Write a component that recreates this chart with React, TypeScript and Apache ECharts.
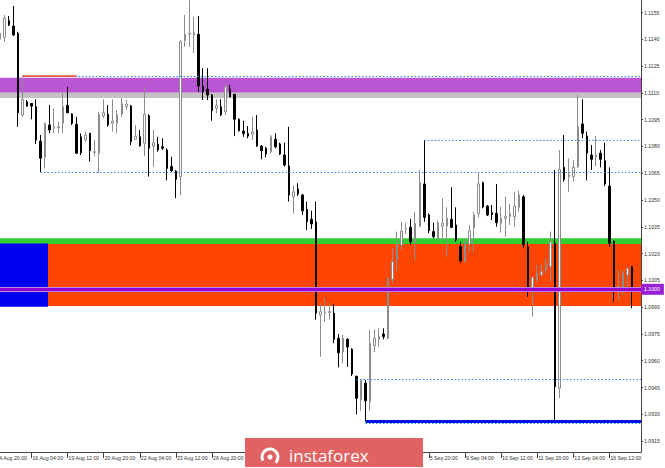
import React, { useEffect, useRef } from 'react';
import * as echarts from 'echarts';

// ---- Candle data (H4 bars, oldest first) ----
const opens = [
  1.11400, 1.11411, 1.11504, 1.11474, 1.11434, 1.10976, 1.11050, 1.11041, 1.11022, 1.10830,
  1.10739, 1.10920, 1.10902, 1.10905, 1.10930, 1.11030, 1.10982, 1.10924, 1.10854, 1.10836,
  1.10873, 1.10767, 1.10762, 1.10970, 1.10980, 1.10930, 1.10930, 1.10982, 1.11022, 1.11026,
  1.10840, 1.10854, 1.10818, 1.10972, 1.10802, 1.10812, 1.10798, 1.10780, 1.10687, 1.10662,
  1.10631, 1.11392, 1.11428, 1.11424, 1.11428, 1.11138, 1.11120, 1.11088, 1.11014, 1.11022,
  1.10995, 1.11120, 1.11092, 1.10952, 1.10886, 1.10873, 1.10868, 1.10892, 1.10802, 1.10790,
  1.10770, 1.10840, 1.10814, 1.10752, 1.10690, 1.10518, 1.10562, 1.10528, 1.10448, 1.10392,
  1.10378, 1.09856, 1.09866, 1.09870, 1.09866, 1.09726, 1.09650, 1.09720, 1.09664, 1.09513,
  1.09382, 1.09474, 1.09370, 1.09685, 1.09718, 1.09750, 1.09726, 1.10056, 1.10164, 1.10248,
  1.10337, 1.10347, 1.10258, 1.10354, 1.10590, 1.10416, 1.10323, 1.10286, 1.10354, 1.10354,
  1.10392, 1.10360, 1.10238, 1.10154, 1.10254, 1.10342, 1.10425, 1.10597, 1.10466, 1.10429,
  1.10425, 1.10370, 1.10398, 1.10407, 1.10407, 1.10459, 1.10518, 1.10238, 1.10006, 1.10056,
  1.10080, 1.10108, 1.10127, 1.10258, 1.09446, 1.10683, 1.10630, 1.10631, 1.10687, 1.10926,
  1.10858, 1.10752, 1.10739, 1.10762, 1.10720, 1.10578, 1.10270, 1.09996, 1.10000, 1.10080,
  1.10127,
];
const closes = [
  1.11434, 1.11518, 1.11480, 1.11424, 1.10989, 1.11064, 1.11026, 1.11026, 1.10836, 1.10734,
  1.10930, 1.10892, 1.10910, 1.10910, 1.11022, 1.10989, 1.10930, 1.10762, 1.10765, 1.10864,
  1.10776, 1.10770, 1.10980, 1.10989, 1.10920, 1.10942, 1.10976, 1.11041, 1.11036, 1.10827,
  1.10858, 1.10804, 1.10980, 1.10790, 1.10821, 1.10780, 1.10790, 1.10677, 1.10664, 1.10616,
  1.11386, 1.11428, 1.11434, 1.11437, 1.11138, 1.11106, 1.11088, 1.11000, 1.11030, 1.10976,
  1.11134, 1.11078, 1.10952, 1.10888, 1.10873, 1.10858, 1.10881, 1.10802, 1.10776, 1.10758,
  1.10854, 1.10798, 1.10758, 1.10696, 1.10528, 1.10546, 1.10534, 1.10440, 1.10378, 1.10366,
  1.09866, 1.09875, 1.09870, 1.09875, 1.09720, 1.09645, 1.09726, 1.09677, 1.09526, 1.09390,
  1.09490, 1.09376, 1.09698, 1.09726, 1.09737, 1.09735, 1.10063, 1.10154, 1.10254, 1.10326,
  1.10340, 1.10266, 1.10370, 1.10599, 1.10403, 1.10328, 1.10294, 1.10373, 1.10370, 1.10398,
  1.10347, 1.10276, 1.10160, 1.10266, 1.10328, 1.10416, 1.10590, 1.10461, 1.10416, 1.10418,
  1.10373, 1.10398, 1.10407, 1.10422, 1.10466, 1.10528, 1.10250, 1.10006, 1.10067, 1.10090,
  1.10098, 1.10142, 1.10266, 1.09454, 1.10672, 1.10616, 1.10640, 1.10683, 1.10910, 1.10874,
  1.10762, 1.10728, 1.10752, 1.10728, 1.10590, 1.10258, 1.10011, 1.10014, 1.10090, 1.10117,
  1.10006,
];
const lows = [
  1.11386, 1.11386, 1.11474, 1.11418, 1.10910, 1.10966, 1.11022, 1.10952, 1.10814, 1.10657,
  1.10678, 1.10874, 1.10874, 1.10874, 1.10874, 1.10986, 1.10920, 1.10758, 1.10752, 1.10827,
  1.10715, 1.10743, 1.10650, 1.10958, 1.10910, 1.10883, 1.10874, 1.10966, 1.11004, 1.10808,
  1.10836, 1.10798, 1.10746, 1.10631, 1.10687, 1.10771, 1.10780, 1.10610, 1.10658, 1.10510,
  1.10528, 1.11358, 1.11358, 1.11322, 1.11106, 1.11060, 1.11060, 1.10944, 1.10986, 1.10970,
  1.10976, 1.11075, 1.10858, 1.10883, 1.10854, 1.10846, 1.10836, 1.10798, 1.10728, 1.10739,
  1.10762, 1.10790, 1.10752, 1.10687, 1.10491, 1.10425, 1.10522, 1.10416, 1.10332, 1.10338,
  1.09830, 1.09622, 1.09817, 1.09830, 1.09698, 1.09563, 1.09586, 1.09566, 1.09514, 1.09300,
  1.09320, 1.09260, 1.09320, 1.09649, 1.09679, 1.09720, 1.09720, 1.10034, 1.10104, 1.10220,
  1.10310, 1.10248, 1.10164, 1.10347, 1.10378, 1.10314, 1.10286, 1.10276, 1.10276, 1.10182,
  1.10342, 1.10266, 1.10149, 1.10149, 1.10211, 1.10205, 1.10403, 1.10454, 1.10410, 1.10388,
  1.10350, 1.10317, 1.10294, 1.10360, 1.10350, 1.10434, 1.10230, 1.09958, 1.09847, 1.10042,
  1.10071, 1.10090, 1.10042, 1.09265, 1.09390, 1.10603, 1.10546, 1.10603, 1.10678, 1.10846,
  1.10610, 1.10668, 1.10690, 1.10683, 1.10578, 1.10238, 1.09931, 1.09940, 1.09968, 1.09996,
  1.09894,
];
const highs = [
  1.11446, 1.11536, 1.11530, 1.11586, 1.11442, 1.11187, 1.11060, 1.11041, 1.11064, 1.10864,
  1.10933, 1.11032, 1.11014, 1.10939, 1.11101, 1.11134, 1.10986, 1.10966, 1.10873, 1.10883,
  1.10877, 1.10836, 1.10995, 1.11064, 1.11032, 1.11064, 1.11004, 1.11070, 1.11060, 1.11032,
  1.10920, 1.10892, 1.11134, 1.10980, 1.10892, 1.10854, 1.10846, 1.10790, 1.10743, 1.10668,
  1.11396, 1.11536, 1.11618, 1.11526, 1.11530, 1.11238, 1.11238, 1.11094, 1.11064, 1.11064,
  1.11150, 1.11144, 1.11092, 1.10958, 1.10944, 1.10914, 1.10966, 1.10976, 1.10808, 1.10798,
  1.10864, 1.10873, 1.10821, 1.10821, 1.10910, 1.10580, 1.10594, 1.10534, 1.10491, 1.10440,
  1.10491, 1.09922, 1.09951, 1.09925, 1.09918, 1.09750, 1.09744, 1.09726, 1.09670, 1.09516,
  1.09498, 1.09492, 1.09772, 1.09776, 1.09782, 1.09782, 1.10070, 1.10230, 1.10323, 1.10378,
  1.10370, 1.10394, 1.10434, 1.10668, 1.10836, 1.10425, 1.10373, 1.10384, 1.10510, 1.10459,
  1.10571, 1.10459, 1.10266, 1.10286, 1.10360, 1.10434, 1.10650, 1.10603, 1.10472, 1.10472,
  1.10590, 1.10463, 1.10518, 1.10478, 1.10546, 1.10552, 1.10528, 1.10266, 1.10070, 1.10136,
  1.10146, 1.10174, 1.10323, 1.10668, 1.10780, 1.10864, 1.10733, 1.10724, 1.11088, 1.11064,
  1.10883, 1.10808, 1.10858, 1.10780, 1.10821, 1.10683, 1.10272, 1.10108, 1.10108, 1.10123,
  1.10130,
];

// ---- Axis tick labels ----
const xTickLabels = [
  '14 Aug 20:00', '16 Aug 04:00', '19 Aug 12:00', '20 Aug 20:00', '22 Aug 04:00', '23 Aug 12:00',
  '26 Aug 20:00', '28 Aug 04:00', '29 Aug 12:00', '30 Aug 20:00', '3 Sep 04:00', '4 Sep 12:00',
  '5 Sep 20:00', '9 Sep 04:00', '10 Sep 12:00', '11 Sep 20:00', '13 Sep 04:00', '16 Sep 12:00',
];
// tick labels that sit underneath the logo box in the picture
const xTicksUnderLogo = ['28 Aug 04:00', '29 Aug 12:00', '30 Aug 20:00', '3 Sep 04:00', '4 Sep 12:00'];
const yTickValues = [
  1.0915, 1.0930, 1.0945, 1.0960, 1.0975, 1.0990, 1.1005, 1.1020, 1.1035,
  1.1050, 1.1065, 1.1080, 1.1095, 1.1110, 1.1125, 1.1140, 1.1155,
];

// ---- Drawn levels / zones (prices) ----
const purpleZone = [1.11184, 1.1110];
const grayZone = [1.1110, 1.11071];
const greenZone = [1.10286, 1.10254];
const orangeZone = [1.10254, 1.09906];
const blueBox = [1.10256, 1.09902];
const pivotLevel = 1.1000;
const bidLevel = 1.10006;
const topDotted = 1.11614;
const resistLevel = 1.11194;
const dottedLevels = [1.10656, 1.10837, 1.09496, 1.0925];
const dottedStartBars = [9, 94, 79, 81];
const supportLevel = 1.09262;

const SLOT_COUNT = 144; // slot 0 = label only, candles occupy slots 1..141
const TICK_STEP = 8;
const FONT = 'Liberation Sans';

const categories = Array.from({ length: SLOT_COUNT }, (_, k) =>
  k % TICK_STEP === 0 && k / TICK_STEP < xTickLabels.length ? xTickLabels[k / TICK_STEP] : '#' + k
);
const candleData = categories.map((_, k) => {
  const i = k - 1;
  return i >= 0 && i < opens.length ? [opens[i], closes[i], lows[i], highs[i]] : ['-', '-', '-', '-'];
});
const LAST = SLOT_COUNT - 1;

const dotted = { color: '#1e8cff', width: 1.2, type: [1.5, 2] as any };

const option: any = {
  animation: false,
  backgroundColor: '#ffffff',
  grid: { left: -4.67, right: 24, top: 0, bottom: 16, outerBoundsMode: 'none', containLabel: false },
  xAxis: {
    type: 'category',
    data: categories,
    boundaryGap: false,
    axisLine: { show: true, lineStyle: { color: '#444', width: 1 } },
    axisTick: {
      show: true, length: 6, interval: (idx: number) => idx % TICK_STEP === 0,
      lineStyle: { color: '#444', width: 1 },
    },
    axisLabel: {
      interval: (idx: number) => idx % TICK_STEP === 0,
      formatter: (v: string) => (v.charAt(0) === '#' || xTicksUnderLogo.indexOf(v) >= 0 ? '' : v),
      align: 'left', verticalAlign: 'top', margin: 3,
      fontSize: 5.2, color: '#333', fontFamily: FONT, padding: [0, 0, 0, 1],
    },
    splitLine: { show: false },
  },
  yAxis: {
    type: 'value', position: 'right', min: 1.09089, max: 1.1162, scale: true,
    splitLine: { show: false },
    axisLine: { show: true, lineStyle: { color: '#444', width: 1 } },
    axisTick: { show: true, length: 2, customValues: yTickValues, lineStyle: { color: '#444' } },
    axisLabel: {
      customValues: yTickValues, formatter: (v: number) => v.toFixed(4),
      fontSize: 5.2, color: '#333', fontFamily: FONT, margin: 3,
    },
  },
  series: [
    {
      type: 'line', data: [], silent: true, clip: false, z: 1,
      markArea: {
        silent: true, z: 1, label: { show: false },
        data: [
          [{ yAxis: purpleZone[0], itemStyle: { color: '#ba55d3', opacity: 1 } }, { yAxis: purpleZone[1] }],
          [{ yAxis: grayZone[0], itemStyle: { color: '#c3c3c3', opacity: 1 } }, { yAxis: grayZone[1] }],
          [{ yAxis: greenZone[0], itemStyle: { color: '#32cd32', opacity: 1 } }, { yAxis: greenZone[1] }],
          [{ yAxis: orangeZone[0], itemStyle: { color: '#ff4500', opacity: 1 } }, { yAxis: orangeZone[1] }],
          [{ yAxis: blueBox[0], itemStyle: { color: '#0000f0', opacity: 1 } }, { x: 48, yAxis: blueBox[1] }],
        ],
      },
    },
    {
      type: 'candlestick',
      data: candleData,
      barWidth: 2,
      z: 2,
      silent: true,
      itemStyle: {
        color: '#ffffff', color0: '#000000',
        borderColor: '#8c8c8c', borderColor0: '#000000', borderWidth: 1,
      },
    },
    {
      type: 'line', data: [], silent: true, clip: false, z: 5,
      markLine: {
        silent: true, symbol: ['none', 'none'], z: 5, label: { show: false },
        data: [
          { yAxis: topDotted, lineStyle: dotted },
          [{ xAxis: 6, yAxis: resistLevel, lineStyle: dotted }, { xAxis: LAST, yAxis: resistLevel }],
          [{ xAxis: 6, yAxis: resistLevel, lineStyle: { color: '#e8472c', width: 1.6, type: 'solid' } }, { xAxis: 18, yAxis: resistLevel }],
          ...dottedLevels.map((lv, j) => [
            { xAxis: dottedStartBars[j] + 1, yAxis: lv, lineStyle: dotted },
            { xAxis: LAST, yAxis: lv },
          ]),
          [{ xAxis: 82, yAxis: supportLevel, lineStyle: { color: '#0010e0', width: 3, type: 'solid' } }, { xAxis: LAST, yAxis: supportLevel }],
          {
            yAxis: bidLevel, lineStyle: { opacity: 0, width: 0 },
            label: {
              show: true, position: 'end', distance: 0, formatter: '1.1001',
              backgroundColor: '#000', color: '#fff', fontSize: 5.2, fontFamily: FONT, padding: [4, 4, 3, 3],
            },
          },
          { yAxis: pivotLevel, lineStyle: { color: '#c486e0', width: 5, type: 'solid' } },
          {
            yAxis: pivotLevel, lineStyle: { color: '#9400d3', width: 3, type: 'solid' },
            label: {
              show: true, position: 'end', distance: 0, formatter: '1.1000',
              backgroundColor: '#9a20d6', color: '#fff', fontSize: 5.2, fontFamily: FONT, padding: [3, 4, 3, 3],
            },
          },
        ],
      },
    },
  ],
  graphic: [
    { type: 'rect', z: 100, shape: { x: 245, y: 438, width: 178, height: 29 }, style: { fill: '#e06262' } },
    {
      type: 'arc', z: 101, shape: { cx: 270, cy: 457, r: 8, startAngle: Math.PI * 0.85, endAngle: Math.PI * 2.25 },
      style: { stroke: '#ffffff', lineWidth: 3, fill: 'none' },
    },
    { type: 'circle', z: 101, shape: { cx: 270, cy: 457, r: 2.5 }, style: { fill: '#ffffff' } },
    {
      type: 'text', z: 101, x: 289, y: 455,
      style: { text: 'instaforex', fill: '#ffffff', font: '17px "Open Sans"', verticalAlign: 'middle' },
    },
  ],
};

export default function App() {
  const ref = useRef<HTMLDivElement>(null);
  useEffect(() => {
    const chart = echarts.init(ref.current!, null, { renderer: 'svg' });
    chart.setOption(option);
    return () => chart.dispose();
  }, []);
  return (
    <div
      ref={ref}
      style={{ position: 'fixed', left: 0, top: 0, width: 665, height: 468, background: '#fff' }}
    />
  );
}
